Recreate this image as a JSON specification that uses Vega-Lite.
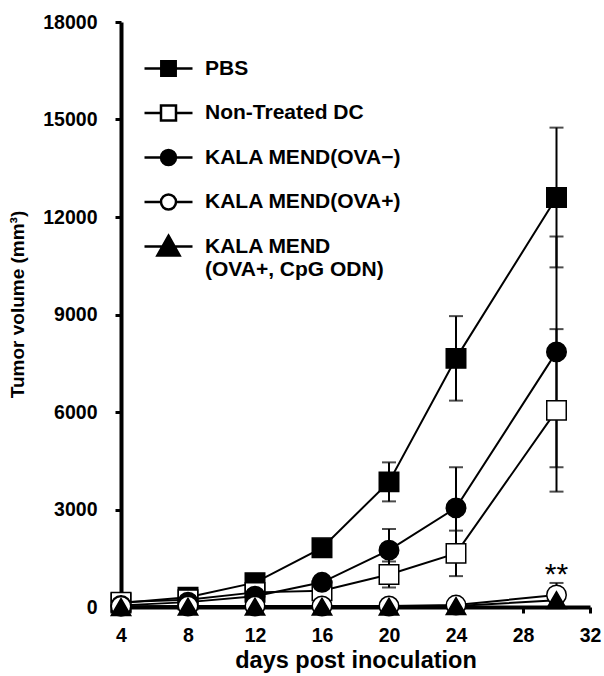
{
  "$schema": "https://vega.github.io/schema/vega-lite/v6.json",
  "autosize": {"type": "none"},
  "width": 469,
  "height": 585,
  "padding": {"left": 121, "top": 22, "right": 14, "bottom": 69},
  "background": "white",
  "config": {
    "view": {"stroke": null},
    "font": "Liberation Sans",
    "axis": {"grid": false, "domainColor": "black", "domainWidth": 4, "tickColor": "black", "tickWidth": 3, "tickSize": 6, "labelFont": "Liberation Sans", "labelFontWeight": "bold", "labelFontSize": 19.5, "labelColor": "black", "titleFont": "Liberation Sans", "titleFontWeight": "bold", "titleColor": "black"}
  },
  "data": {
    "values": [
      {"series": "PBS", "day": 4, "vol": 120, "err": 20},
      {"series": "PBS", "day": 8, "vol": 300, "err": 40},
      {"series": "PBS", "day": 12, "vol": 750, "err": 80},
      {"series": "PBS", "day": 16, "vol": 1820, "err": 150},
      {"series": "PBS", "day": 20, "vol": 3850, "err": 600},
      {"series": "PBS", "day": 24, "vol": 7650, "err": 1300},
      {"series": "PBS", "day": 30, "vol": 12600, "err": 2150},
      {"series": "Non-Treated DC", "day": 4, "vol": 150, "err": 20},
      {"series": "Non-Treated DC", "day": 8, "vol": 220, "err": 40},
      {"series": "Non-Treated DC", "day": 12, "vol": 450, "err": 80},
      {"series": "Non-Treated DC", "day": 16, "vol": 500, "err": 100},
      {"series": "Non-Treated DC", "day": 20, "vol": 1000, "err": 400},
      {"series": "Non-Treated DC", "day": 24, "vol": 1650, "err": 700},
      {"series": "Non-Treated DC", "day": 30, "vol": 6050, "err": 2500},
      {"series": "KALA MEND(OVA−)", "day": 4, "vol": 50, "err": 20},
      {"series": "KALA MEND(OVA−)", "day": 8, "vol": 150, "err": 40},
      {"series": "KALA MEND(OVA−)", "day": 12, "vol": 330, "err": 80},
      {"series": "KALA MEND(OVA−)", "day": 16, "vol": 760, "err": 150},
      {"series": "KALA MEND(OVA−)", "day": 20, "vol": 1750, "err": 650},
      {"series": "KALA MEND(OVA−)", "day": 24, "vol": 3050, "err": 1250},
      {"series": "KALA MEND(OVA−)", "day": 30, "vol": 7850, "err": 3550},
      {"series": "KALA MEND(OVA+)", "day": 4, "vol": 20, "err": 10},
      {"series": "KALA MEND(OVA+)", "day": 8, "vol": 30, "err": 10},
      {"series": "KALA MEND(OVA+)", "day": 12, "vol": 30, "err": 10},
      {"series": "KALA MEND(OVA+)", "day": 16, "vol": 30, "err": 10},
      {"series": "KALA MEND(OVA+)", "day": 20, "vol": 30, "err": 10},
      {"series": "KALA MEND(OVA+)", "day": 24, "vol": 60, "err": 20},
      {"series": "KALA MEND(OVA+)", "day": 30, "vol": 370, "err": 370},
      {"series": "KALA MEND (OVA+, CpG ODN)", "day": 4, "vol": 0, "err": 5},
      {"series": "KALA MEND (OVA+, CpG ODN)", "day": 8, "vol": 10, "err": 5},
      {"series": "KALA MEND (OVA+, CpG ODN)", "day": 12, "vol": 10, "err": 5},
      {"series": "KALA MEND (OVA+, CpG ODN)", "day": 16, "vol": 10, "err": 5},
      {"series": "KALA MEND (OVA+, CpG ODN)", "day": 20, "vol": 10, "err": 5},
      {"series": "KALA MEND (OVA+, CpG ODN)", "day": 24, "vol": 30, "err": 10},
      {"series": "KALA MEND (OVA+, CpG ODN)", "day": 30, "vol": 210, "err": 60}
    ]
  },
  "encoding": {
    "x": {"field": "day", "type": "quantitative", "scale": {"domain": [4, 32], "nice": false, "zero": false},
      "axis": {"values": [4, 8, 12, 16, 20, 24, 28, 32], "title": "days post inoculation", "titleFontSize": 23.5, "titlePadding": 4, "labelPadding": 13, "labelFlush": false}},
    "y": {"field": "vol", "type": "quantitative", "scale": {"domain": [0, 18000], "nice": false},
      "axis": {"values": [0, 3000, 6000, 9000, 12000, 15000, 18000], "format": "d", "title": "Tumor volume (mm³)", "titleFontSize": 19, "titlePadding": 15, "titleY": 282, "labelPadding": 18, "labelFlush": false}}
  },
  "layer": [
    {
      "mark": {"type": "line", "color": "black", "strokeWidth": 2},
      "encoding": {"detail": {"field": "series"}}
    },
    {
      "mark": {"type": "errorbar", "color": "black", "ticks": {"size": 14, "thickness": 2, "color": "black"}, "rule": {"strokeWidth": 2, "color": "black"}},
      "encoding": {"yError": {"field": "err"}, "detail": {"field": "series"}}
    },
    {
      "mark": {"type": "point", "filled": true, "stroke": "black", "strokeWidth": 1.5, "size": 380, "opacity": 1},
      "encoding": {
        "shape": {"field": "series", "type": "nominal", "sort": null, "legend": null,
          "scale": {"domain": ["PBS", "Non-Treated DC", "KALA MEND(OVA−)", "KALA MEND(OVA+)", "KALA MEND (OVA+, CpG ODN)"], "range": ["square", "square", "circle", "circle", "triangle-up"]}},
        "fill": {"field": "series", "type": "nominal", "sort": null, "legend": null,
          "scale": {"domain": ["PBS", "Non-Treated DC", "KALA MEND(OVA−)", "KALA MEND(OVA+)", "KALA MEND (OVA+, CpG ODN)"], "range": ["black", "white", "black", "white", "black"]}}
      }
    },
    {
      "transform": [{"filter": "datum.series == 'KALA MEND(OVA+)' && datum.day == 30"}],
      "mark": {"type": "text", "text": "**", "fontSize": 30, "fontWeight": "normal", "dy": -20, "color": "black"}
    },
    {
      "transform": [{"filter": "datum.day < 0"}],
      "mark": {"type": "point", "filled": false, "strokeWidth": 2.5, "size": 900, "opacity": 1},
      "encoding": {
        "shape": {"field": "series", "type": "nominal", "sort": null,
          "scale": {"domain": ["PBS", "Non-Treated DC", "KALA MEND(OVA−)", "KALA MEND(OVA+)", "KALA MEND (OVA+, CpG ODN)"],
            "range": ["M-1.6,0H-0.48M0.48,0H1.6M-0.48,-0.48H0.48V0.48H-0.48Z", "M-1.6,0H-0.5M0.5,0H1.6M-0.5,-0.5H0.5V0.5H-0.5Z", "M-1.6,0H-0.5M0.5,0H1.6M0.5,0A0.5,0.5 0 1,1 -0.5,0A0.5,0.5 0 1,1 0.5,0Z", "M-1.6,0H-0.5M0.5,0H1.6M0.5,0A0.5,0.5 0 1,1 -0.5,0A0.5,0.5 0 1,1 0.5,0Z", "M-1.6,0H1.6M0,-0.72L0.74,0.6H-0.74Z"]},
          "legend": {"title": null, "orient": "none", "legendX": 31, "legendY": 30, "padding": 0, "rowPadding": 15.5, "labelOffset": 20, "labelFont": "Liberation Sans", "labelFontWeight": "bold", "labelFontSize": 21, "labelColor": "black", "labelLimit": 400, "symbolSize": 900, "symbolStrokeColor": "black", "symbolStrokeWidth": 2.5, "symbolOpacity": 1,
            "labelExpr": "datum.label == 'KALA MEND (OVA+, CpG ODN)' ? ['KALA MEND', '(OVA+, CpG ODN)'] : datum.label"}},
        "fill": {"field": "series", "type": "nominal", "sort": null,
          "scale": {"domain": ["PBS", "Non-Treated DC", "KALA MEND(OVA−)", "KALA MEND(OVA+)", "KALA MEND (OVA+, CpG ODN)"], "range": ["black", "white", "black", "white", "black"]},
          "legend": {"title": null, "orient": "none", "legendX": 31, "legendY": 30, "padding": 0, "rowPadding": 15.5, "labelOffset": 20, "labelFont": "Liberation Sans", "labelFontWeight": "bold", "labelFontSize": 21, "labelColor": "black", "labelLimit": 400, "symbolSize": 900, "symbolStrokeColor": "black", "symbolStrokeWidth": 2.5, "symbolOpacity": 1,
            "labelExpr": "datum.label == 'KALA MEND (OVA+, CpG ODN)' ? ['KALA MEND', '(OVA+, CpG ODN)'] : datum.label"}},
        "stroke": {"field": "series", "type": "nominal", "sort": null,
          "scale": {"domain": ["PBS", "Non-Treated DC", "KALA MEND(OVA−)", "KALA MEND(OVA+)", "KALA MEND (OVA+, CpG ODN)"], "range": ["black", "black", "black", "black", "black"]},
          "legend": {"title": null, "orient": "none", "legendX": 31, "legendY": 30, "padding": 0, "rowPadding": 15.5, "labelOffset": 20, "labelFont": "Liberation Sans", "labelFontWeight": "bold", "labelFontSize": 21, "labelColor": "black", "labelLimit": 400, "symbolSize": 900, "symbolStrokeColor": "black", "symbolStrokeWidth": 2.5, "symbolOpacity": 1,
            "labelExpr": "datum.label == 'KALA MEND (OVA+, CpG ODN)' ? ['KALA MEND', '(OVA+, CpG ODN)'] : datum.label"}}
      }
    }
  ],
  "resolve": {"scale": {"shape": "independent", "fill": "independent", "stroke": "independent"}}
}
